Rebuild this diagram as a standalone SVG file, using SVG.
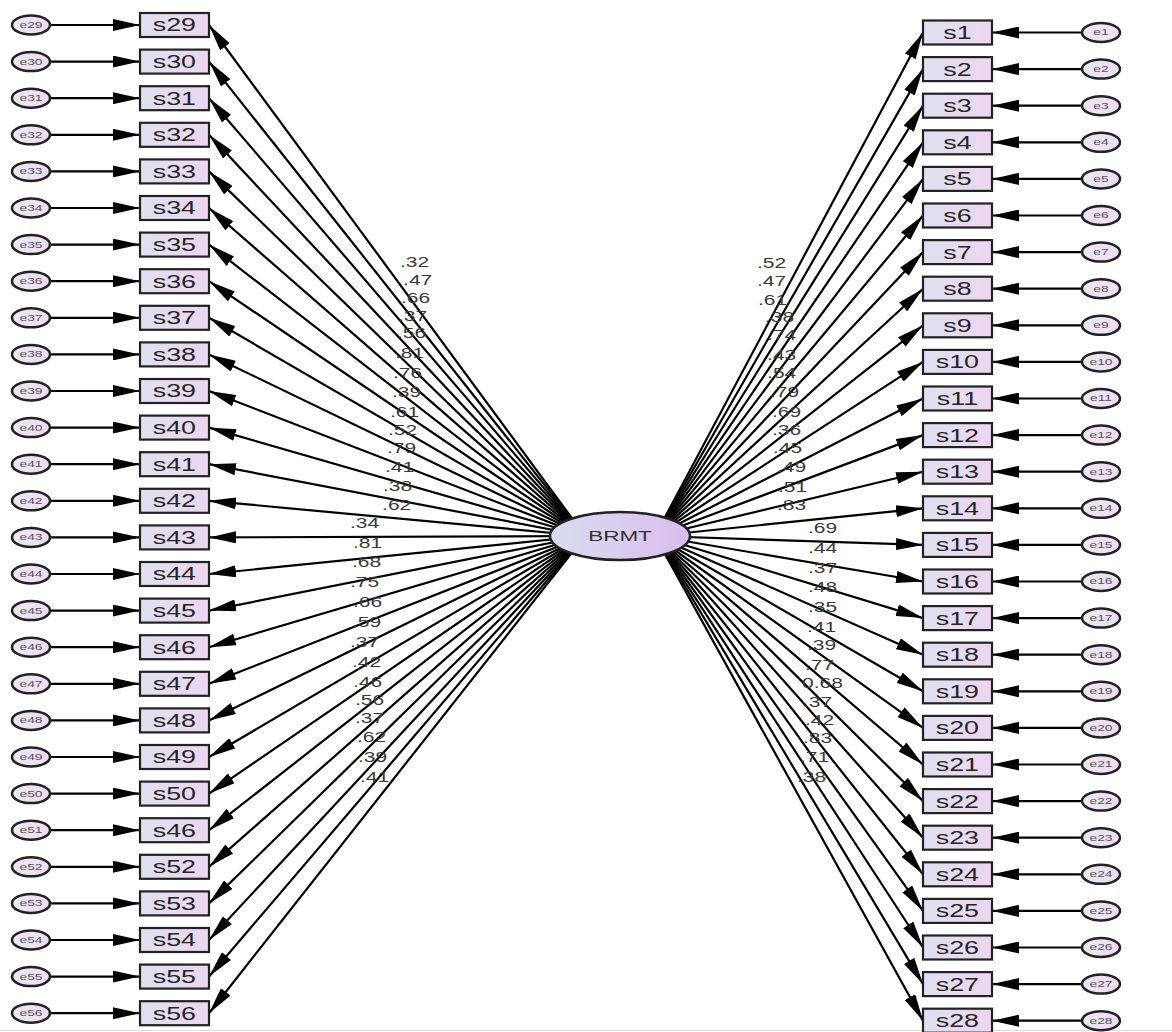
<svg xmlns="http://www.w3.org/2000/svg" width="1172" height="1032" viewBox="0 0 1172 1032">
<defs>
<linearGradient id="gBox" x1="0" y1="0" x2="1" y2="0"><stop offset="0" stop-color="#dfe0f0"/><stop offset="1" stop-color="#ecd6ef"/></linearGradient>
<linearGradient id="gE" x1="0" y1="0" x2="1" y2="0"><stop offset="0" stop-color="#ebe7f3"/><stop offset="1" stop-color="#efdcf2"/></linearGradient>
<linearGradient id="gB" x1="0" y1="0" x2="1" y2="0"><stop offset="0" stop-color="#d9ddf0"/><stop offset="1" stop-color="#dcbcec"/></linearGradient>
<marker id="ah" markerUnits="userSpaceOnUse" markerWidth="27" markerHeight="12" refX="27" refY="6" orient="auto"><path d="M0,0 L27,6 L0,12 z" fill="#000"/></marker>
</defs>
<style>
.c line{stroke:#000;stroke-width:2.2;marker-end:url(#ah)}
.box{fill:url(#gBox);stroke:#222;stroke-width:2.2}
.err{fill:url(#gE);stroke:#222;stroke-width:2.5;ry:9.5px}
.bt{font-family:"Liberation Sans",Arial,sans-serif;font-size:18.5px;fill:#262626;text-anchor:middle}
.et{font-family:"Liberation Sans",Arial,sans-serif;font-size:9.5px;fill:#555;text-anchor:middle}
.lt{font-family:"Liberation Sans",Arial,sans-serif;font-size:15px;fill:#3a3a3a}
.mt{font-family:"Liberation Sans",Arial,sans-serif;font-size:15.5px;fill:#333;text-anchor:middle}
</style>
<rect x="0" y="0" width="1172" height="1032" fill="#fff"/>
<line x1="0" y1="1030.5" x2="1172" y2="1030.5" stroke="#dddddd" stroke-width="1"/>
<g id="connectors" class="c">
<line x1="50" y1="25" x2="140" y2="25"/><line x1="585" y1="536" x2="209" y2="25"/>
<line x1="50" y1="61.6" x2="140" y2="61.6"/><line x1="585" y1="536" x2="209" y2="61.6"/>
<line x1="50" y1="98.2" x2="140" y2="98.2"/><line x1="585" y1="536" x2="209" y2="98.2"/>
<line x1="50" y1="134.8" x2="140" y2="134.8"/><line x1="585" y1="536" x2="209" y2="134.8"/>
<line x1="50" y1="171.4" x2="140" y2="171.4"/><line x1="585" y1="536" x2="209" y2="171.4"/>
<line x1="50" y1="208" x2="140" y2="208"/><line x1="585" y1="536" x2="209" y2="208"/>
<line x1="50" y1="244.6" x2="140" y2="244.6"/><line x1="585" y1="536" x2="209" y2="244.6"/>
<line x1="50" y1="281.2" x2="140" y2="281.2"/><line x1="585" y1="536" x2="209" y2="281.2"/>
<line x1="50" y1="317.8" x2="140" y2="317.8"/><line x1="585" y1="536" x2="209" y2="317.8"/>
<line x1="50" y1="354.4" x2="140" y2="354.4"/><line x1="585" y1="536" x2="209" y2="354.4"/>
<line x1="50" y1="391" x2="140" y2="391"/><line x1="585" y1="536" x2="209" y2="391"/>
<line x1="50" y1="427.6" x2="140" y2="427.6"/><line x1="585" y1="536" x2="209" y2="427.6"/>
<line x1="50" y1="464.2" x2="140" y2="464.2"/><line x1="585" y1="536" x2="209" y2="464.2"/>
<line x1="50" y1="500.8" x2="140" y2="500.8"/><line x1="585" y1="536" x2="209" y2="500.8"/>
<line x1="50" y1="537.4" x2="140" y2="537.4"/><line x1="585" y1="536" x2="209" y2="537.4"/>
<line x1="50" y1="574" x2="140" y2="574"/><line x1="585" y1="536" x2="209" y2="574"/>
<line x1="50" y1="610.6" x2="140" y2="610.6"/><line x1="585" y1="536" x2="209" y2="610.6"/>
<line x1="50" y1="647.2" x2="140" y2="647.2"/><line x1="585" y1="536" x2="209" y2="647.2"/>
<line x1="50" y1="683.8" x2="140" y2="683.8"/><line x1="585" y1="536" x2="209" y2="683.8"/>
<line x1="50" y1="720.4" x2="140" y2="720.4"/><line x1="585" y1="536" x2="209" y2="720.4"/>
<line x1="50" y1="757" x2="140" y2="757"/><line x1="585" y1="536" x2="209" y2="757"/>
<line x1="50" y1="793.6" x2="140" y2="793.6"/><line x1="585" y1="536" x2="209" y2="793.6"/>
<line x1="50" y1="830.2" x2="140" y2="830.2"/><line x1="585" y1="536" x2="209" y2="830.2"/>
<line x1="50" y1="866.8" x2="140" y2="866.8"/><line x1="585" y1="536" x2="209" y2="866.8"/>
<line x1="50" y1="903.4" x2="140" y2="903.4"/><line x1="585" y1="536" x2="209" y2="903.4"/>
<line x1="50" y1="940" x2="140" y2="940"/><line x1="585" y1="536" x2="209" y2="940"/>
<line x1="50" y1="976.6" x2="140" y2="976.6"/><line x1="585" y1="536" x2="209" y2="976.6"/>
<line x1="50" y1="1013.2" x2="140" y2="1013.2"/><line x1="585" y1="536" x2="209" y2="1013.2"/>
<line x1="1082" y1="32.5" x2="992" y2="32.5"/><line x1="655" y1="536" x2="923" y2="32.5"/>
<line x1="1082" y1="69.1" x2="992" y2="69.1"/><line x1="655" y1="536" x2="923" y2="69.1"/>
<line x1="1082" y1="105.7" x2="992" y2="105.7"/><line x1="655" y1="536" x2="923" y2="105.7"/>
<line x1="1082" y1="142.3" x2="992" y2="142.3"/><line x1="655" y1="536" x2="923" y2="142.3"/>
<line x1="1082" y1="178.9" x2="992" y2="178.9"/><line x1="655" y1="536" x2="923" y2="178.9"/>
<line x1="1082" y1="215.5" x2="992" y2="215.5"/><line x1="655" y1="536" x2="923" y2="215.5"/>
<line x1="1082" y1="252.1" x2="992" y2="252.1"/><line x1="655" y1="536" x2="923" y2="252.1"/>
<line x1="1082" y1="288.7" x2="992" y2="288.7"/><line x1="655" y1="536" x2="923" y2="288.7"/>
<line x1="1082" y1="325.3" x2="992" y2="325.3"/><line x1="655" y1="536" x2="923" y2="325.3"/>
<line x1="1082" y1="361.9" x2="992" y2="361.9"/><line x1="655" y1="536" x2="923" y2="361.9"/>
<line x1="1082" y1="398.5" x2="992" y2="398.5"/><line x1="655" y1="536" x2="923" y2="398.5"/>
<line x1="1082" y1="435.1" x2="992" y2="435.1"/><line x1="655" y1="536" x2="923" y2="435.1"/>
<line x1="1082" y1="471.7" x2="992" y2="471.7"/><line x1="655" y1="536" x2="923" y2="471.7"/>
<line x1="1082" y1="508.3" x2="992" y2="508.3"/><line x1="655" y1="536" x2="923" y2="508.3"/>
<line x1="1082" y1="544.9" x2="992" y2="544.9"/><line x1="655" y1="536" x2="923" y2="544.9"/>
<line x1="1082" y1="581.5" x2="992" y2="581.5"/><line x1="655" y1="536" x2="923" y2="581.5"/>
<line x1="1082" y1="618.1" x2="992" y2="618.1"/><line x1="655" y1="536" x2="923" y2="618.1"/>
<line x1="1082" y1="654.7" x2="992" y2="654.7"/><line x1="655" y1="536" x2="923" y2="654.7"/>
<line x1="1082" y1="691.3" x2="992" y2="691.3"/><line x1="655" y1="536" x2="923" y2="691.3"/>
<line x1="1082" y1="727.9" x2="992" y2="727.9"/><line x1="655" y1="536" x2="923" y2="727.9"/>
<line x1="1082" y1="764.5" x2="992" y2="764.5"/><line x1="655" y1="536" x2="923" y2="764.5"/>
<line x1="1082" y1="801.1" x2="992" y2="801.1"/><line x1="655" y1="536" x2="923" y2="801.1"/>
<line x1="1082" y1="837.7" x2="992" y2="837.7"/><line x1="655" y1="536" x2="923" y2="837.7"/>
<line x1="1082" y1="874.3" x2="992" y2="874.3"/><line x1="655" y1="536" x2="923" y2="874.3"/>
<line x1="1082" y1="910.9" x2="992" y2="910.9"/><line x1="655" y1="536" x2="923" y2="910.9"/>
<line x1="1082" y1="947.5" x2="992" y2="947.5"/><line x1="655" y1="536" x2="923" y2="947.5"/>
<line x1="1082" y1="984.1" x2="992" y2="984.1"/><line x1="655" y1="536" x2="923" y2="984.1"/>
<line x1="1082" y1="1020.7" x2="992" y2="1020.7"/><line x1="655" y1="536" x2="923" y2="1020.7"/>
</g>
<g id="loadings" transform="scale(1.4 1)">
<text class="lt" x="285.7" y="267">.32</text>
<text class="lt" x="287.9" y="285">.47</text>
<text class="lt" x="286.4" y="303">.66</text>
<text class="lt" x="284.3" y="321">.37</text>
<text class="lt" x="283.6" y="338">.56</text>
<text class="lt" x="282.1" y="358">.81</text>
<text class="lt" x="280.7" y="378">.76</text>
<text class="lt" x="280" y="397">.39</text>
<text class="lt" x="278.6" y="417">.61</text>
<text class="lt" x="277.1" y="435">.52</text>
<text class="lt" x="276.4" y="453">.79</text>
<text class="lt" x="275" y="472">.41</text>
<text class="lt" x="273.6" y="491">.38</text>
<text class="lt" x="272.9" y="510">.62</text>
<text class="lt" x="250" y="528">.34</text>
<text class="lt" x="252.1" y="548">.81</text>
<text class="lt" x="251.4" y="567">.68</text>
<text class="lt" x="250" y="587">.75</text>
<text class="lt" x="252.1" y="607">.66</text>
<text class="lt" x="251.4" y="627">.59</text>
<text class="lt" x="250" y="647">.37</text>
<text class="lt" x="251.4" y="667">.42</text>
<text class="lt" x="252.1" y="687">.46</text>
<text class="lt" x="253.6" y="705">.56</text>
<text class="lt" x="253.6" y="723">.37</text>
<text class="lt" x="255" y="742">.62</text>
<text class="lt" x="255.7" y="762">.39</text>
<text class="lt" x="257.1" y="782">.41</text>
<text class="lt" x="540.7" y="268">.52</text>
<text class="lt" x="540.7" y="286">.47</text>
<text class="lt" x="541.4" y="305">.61</text>
<text class="lt" x="546.4" y="322">.38</text>
<text class="lt" x="547.9" y="340">.74</text>
<text class="lt" x="547.9" y="360">.43</text>
<text class="lt" x="547.9" y="378">.54</text>
<text class="lt" x="550" y="397">.79</text>
<text class="lt" x="551.4" y="417">.69</text>
<text class="lt" x="551.4" y="435">.36</text>
<text class="lt" x="552.1" y="453">.45</text>
<text class="lt" x="555" y="472">.49</text>
<text class="lt" x="555.7" y="492">.51</text>
<text class="lt" x="555" y="510">.83</text>
<text class="lt" x="577.1" y="533">.69</text>
<text class="lt" x="577.1" y="553">.44</text>
<text class="lt" x="577.1" y="573">.37</text>
<text class="lt" x="577.1" y="592">.48</text>
<text class="lt" x="577.1" y="612">.35</text>
<text class="lt" x="576.4" y="632">.41</text>
<text class="lt" x="576.4" y="650">.39</text>
<text class="lt" x="575" y="670">.77</text>
<text class="lt" x="572.9" y="688">0.68</text>
<text class="lt" x="573.6" y="707">.37</text>
<text class="lt" x="575" y="725">.42</text>
<text class="lt" x="573.6" y="743">.83</text>
<text class="lt" x="571.4" y="762">.71</text>
<text class="lt" x="569.3" y="782">.38</text>
</g>
<g id="BRMT"><ellipse cx="620" cy="536" rx="70" ry="24" fill="url(#gB)" stroke="#222" stroke-width="2.5"/><text class="mt" x="427.6" y="541.5" transform="scale(1.45 1)">BRMT</text></g>
<g id="s29"><rect class="box" x="140" y="13" width="69" height="24"/><text class="bt" x="120.3" y="31.5" transform="scale(1.45 1)">s29</text></g>
<g id="e29"><ellipse class="err" cx="31" cy="25" rx="19" ry="9"/><text class="et" x="21.4" y="28" transform="scale(1.45 1)">e29</text></g>
<g id="s30"><rect class="box" x="140" y="49.6" width="69" height="24"/><text class="bt" x="120.3" y="68.1" transform="scale(1.45 1)">s30</text></g>
<g id="e30"><ellipse class="err" cx="31" cy="61.6" rx="19" ry="9"/><text class="et" x="21.4" y="64.6" transform="scale(1.45 1)">e30</text></g>
<g id="s31"><rect class="box" x="140" y="86.2" width="69" height="24"/><text class="bt" x="120.3" y="104.7" transform="scale(1.45 1)">s31</text></g>
<g id="e31"><ellipse class="err" cx="31" cy="98.2" rx="19" ry="9"/><text class="et" x="21.4" y="101.2" transform="scale(1.45 1)">e31</text></g>
<g id="s32"><rect class="box" x="140" y="122.8" width="69" height="24"/><text class="bt" x="120.3" y="141.3" transform="scale(1.45 1)">s32</text></g>
<g id="e32"><ellipse class="err" cx="31" cy="134.8" rx="19" ry="9"/><text class="et" x="21.4" y="137.8" transform="scale(1.45 1)">e32</text></g>
<g id="s33"><rect class="box" x="140" y="159.4" width="69" height="24"/><text class="bt" x="120.3" y="177.9" transform="scale(1.45 1)">s33</text></g>
<g id="e33"><ellipse class="err" cx="31" cy="171.4" rx="19" ry="9"/><text class="et" x="21.4" y="174.4" transform="scale(1.45 1)">e33</text></g>
<g id="s34"><rect class="box" x="140" y="196" width="69" height="24"/><text class="bt" x="120.3" y="214.5" transform="scale(1.45 1)">s34</text></g>
<g id="e34"><ellipse class="err" cx="31" cy="208" rx="19" ry="9"/><text class="et" x="21.4" y="211" transform="scale(1.45 1)">e34</text></g>
<g id="s35"><rect class="box" x="140" y="232.6" width="69" height="24"/><text class="bt" x="120.3" y="251.1" transform="scale(1.45 1)">s35</text></g>
<g id="e35"><ellipse class="err" cx="31" cy="244.6" rx="19" ry="9"/><text class="et" x="21.4" y="247.6" transform="scale(1.45 1)">e35</text></g>
<g id="s36"><rect class="box" x="140" y="269.2" width="69" height="24"/><text class="bt" x="120.3" y="287.7" transform="scale(1.45 1)">s36</text></g>
<g id="e36"><ellipse class="err" cx="31" cy="281.2" rx="19" ry="9"/><text class="et" x="21.4" y="284.2" transform="scale(1.45 1)">e36</text></g>
<g id="s37"><rect class="box" x="140" y="305.8" width="69" height="24"/><text class="bt" x="120.3" y="324.3" transform="scale(1.45 1)">s37</text></g>
<g id="e37"><ellipse class="err" cx="31" cy="317.8" rx="19" ry="9"/><text class="et" x="21.4" y="320.8" transform="scale(1.45 1)">e37</text></g>
<g id="s38"><rect class="box" x="140" y="342.4" width="69" height="24"/><text class="bt" x="120.3" y="360.9" transform="scale(1.45 1)">s38</text></g>
<g id="e38"><ellipse class="err" cx="31" cy="354.4" rx="19" ry="9"/><text class="et" x="21.4" y="357.4" transform="scale(1.45 1)">e38</text></g>
<g id="s39"><rect class="box" x="140" y="379" width="69" height="24"/><text class="bt" x="120.3" y="397.5" transform="scale(1.45 1)">s39</text></g>
<g id="e39"><ellipse class="err" cx="31" cy="391" rx="19" ry="9"/><text class="et" x="21.4" y="394" transform="scale(1.45 1)">e39</text></g>
<g id="s40"><rect class="box" x="140" y="415.6" width="69" height="24"/><text class="bt" x="120.3" y="434.1" transform="scale(1.45 1)">s40</text></g>
<g id="e40"><ellipse class="err" cx="31" cy="427.6" rx="19" ry="9"/><text class="et" x="21.4" y="430.6" transform="scale(1.45 1)">e40</text></g>
<g id="s41"><rect class="box" x="140" y="452.2" width="69" height="24"/><text class="bt" x="120.3" y="470.7" transform="scale(1.45 1)">s41</text></g>
<g id="e41"><ellipse class="err" cx="31" cy="464.2" rx="19" ry="9"/><text class="et" x="21.4" y="467.2" transform="scale(1.45 1)">e41</text></g>
<g id="s42"><rect class="box" x="140" y="488.8" width="69" height="24"/><text class="bt" x="120.3" y="507.3" transform="scale(1.45 1)">s42</text></g>
<g id="e42"><ellipse class="err" cx="31" cy="500.8" rx="19" ry="9"/><text class="et" x="21.4" y="503.8" transform="scale(1.45 1)">e42</text></g>
<g id="s43"><rect class="box" x="140" y="525.4" width="69" height="24"/><text class="bt" x="120.3" y="543.9" transform="scale(1.45 1)">s43</text></g>
<g id="e43"><ellipse class="err" cx="31" cy="537.4" rx="19" ry="9"/><text class="et" x="21.4" y="540.4" transform="scale(1.45 1)">e43</text></g>
<g id="s44"><rect class="box" x="140" y="562" width="69" height="24"/><text class="bt" x="120.3" y="580.5" transform="scale(1.45 1)">s44</text></g>
<g id="e44"><ellipse class="err" cx="31" cy="574" rx="19" ry="9"/><text class="et" x="21.4" y="577" transform="scale(1.45 1)">e44</text></g>
<g id="s45"><rect class="box" x="140" y="598.6" width="69" height="24"/><text class="bt" x="120.3" y="617.1" transform="scale(1.45 1)">s45</text></g>
<g id="e45"><ellipse class="err" cx="31" cy="610.6" rx="19" ry="9"/><text class="et" x="21.4" y="613.6" transform="scale(1.45 1)">e45</text></g>
<g id="s46"><rect class="box" x="140" y="635.2" width="69" height="24"/><text class="bt" x="120.3" y="653.7" transform="scale(1.45 1)">s46</text></g>
<g id="e46"><ellipse class="err" cx="31" cy="647.2" rx="19" ry="9"/><text class="et" x="21.4" y="650.2" transform="scale(1.45 1)">e46</text></g>
<g id="s47"><rect class="box" x="140" y="671.8" width="69" height="24"/><text class="bt" x="120.3" y="690.3" transform="scale(1.45 1)">s47</text></g>
<g id="e47"><ellipse class="err" cx="31" cy="683.8" rx="19" ry="9"/><text class="et" x="21.4" y="686.8" transform="scale(1.45 1)">e47</text></g>
<g id="s48"><rect class="box" x="140" y="708.4" width="69" height="24"/><text class="bt" x="120.3" y="726.9" transform="scale(1.45 1)">s48</text></g>
<g id="e48"><ellipse class="err" cx="31" cy="720.4" rx="19" ry="9"/><text class="et" x="21.4" y="723.4" transform="scale(1.45 1)">e48</text></g>
<g id="s49"><rect class="box" x="140" y="745" width="69" height="24"/><text class="bt" x="120.3" y="763.5" transform="scale(1.45 1)">s49</text></g>
<g id="e49"><ellipse class="err" cx="31" cy="757" rx="19" ry="9"/><text class="et" x="21.4" y="760" transform="scale(1.45 1)">e49</text></g>
<g id="s50"><rect class="box" x="140" y="781.6" width="69" height="24"/><text class="bt" x="120.3" y="800.1" transform="scale(1.45 1)">s50</text></g>
<g id="e50"><ellipse class="err" cx="31" cy="793.6" rx="19" ry="9"/><text class="et" x="21.4" y="796.6" transform="scale(1.45 1)">e50</text></g>
<g id="s51"><rect class="box" x="140" y="818.2" width="69" height="24"/><text class="bt" x="120.3" y="836.7" transform="scale(1.45 1)">s46</text></g>
<g id="e51"><ellipse class="err" cx="31" cy="830.2" rx="19" ry="9"/><text class="et" x="21.4" y="833.2" transform="scale(1.45 1)">e51</text></g>
<g id="s52"><rect class="box" x="140" y="854.8" width="69" height="24"/><text class="bt" x="120.3" y="873.3" transform="scale(1.45 1)">s52</text></g>
<g id="e52"><ellipse class="err" cx="31" cy="866.8" rx="19" ry="9"/><text class="et" x="21.4" y="869.8" transform="scale(1.45 1)">e52</text></g>
<g id="s53"><rect class="box" x="140" y="891.4" width="69" height="24"/><text class="bt" x="120.3" y="909.9" transform="scale(1.45 1)">s53</text></g>
<g id="e53"><ellipse class="err" cx="31" cy="903.4" rx="19" ry="9"/><text class="et" x="21.4" y="906.4" transform="scale(1.45 1)">e53</text></g>
<g id="s54"><rect class="box" x="140" y="928" width="69" height="24"/><text class="bt" x="120.3" y="946.5" transform="scale(1.45 1)">s54</text></g>
<g id="e54"><ellipse class="err" cx="31" cy="940" rx="19" ry="9"/><text class="et" x="21.4" y="943" transform="scale(1.45 1)">e54</text></g>
<g id="s55"><rect class="box" x="140" y="964.6" width="69" height="24"/><text class="bt" x="120.3" y="983.1" transform="scale(1.45 1)">s55</text></g>
<g id="e55"><ellipse class="err" cx="31" cy="976.6" rx="19" ry="9"/><text class="et" x="21.4" y="979.6" transform="scale(1.45 1)">e55</text></g>
<g id="s56"><rect class="box" x="140" y="1001.2" width="69" height="24"/><text class="bt" x="120.3" y="1019.7" transform="scale(1.45 1)">s56</text></g>
<g id="e56"><ellipse class="err" cx="31" cy="1013.2" rx="19" ry="9"/><text class="et" x="21.4" y="1016.2" transform="scale(1.45 1)">e56</text></g>
<g id="s1"><rect class="box" x="923" y="20.5" width="69" height="24"/><text class="bt" x="660.3" y="39" transform="scale(1.45 1)">s1</text></g>
<g id="e1"><ellipse class="err" cx="1101" cy="32.5" rx="19" ry="9"/><text class="et" x="759.3" y="35.5" transform="scale(1.45 1)">e1</text></g>
<g id="s2"><rect class="box" x="923" y="57.1" width="69" height="24"/><text class="bt" x="660.3" y="75.6" transform="scale(1.45 1)">s2</text></g>
<g id="e2"><ellipse class="err" cx="1101" cy="69.1" rx="19" ry="9"/><text class="et" x="759.3" y="72.1" transform="scale(1.45 1)">e2</text></g>
<g id="s3"><rect class="box" x="923" y="93.7" width="69" height="24"/><text class="bt" x="660.3" y="112.2" transform="scale(1.45 1)">s3</text></g>
<g id="e3"><ellipse class="err" cx="1101" cy="105.7" rx="19" ry="9"/><text class="et" x="759.3" y="108.7" transform="scale(1.45 1)">e3</text></g>
<g id="s4"><rect class="box" x="923" y="130.3" width="69" height="24"/><text class="bt" x="660.3" y="148.8" transform="scale(1.45 1)">s4</text></g>
<g id="e4"><ellipse class="err" cx="1101" cy="142.3" rx="19" ry="9"/><text class="et" x="759.3" y="145.3" transform="scale(1.45 1)">e4</text></g>
<g id="s5"><rect class="box" x="923" y="166.9" width="69" height="24"/><text class="bt" x="660.3" y="185.4" transform="scale(1.45 1)">s5</text></g>
<g id="e5"><ellipse class="err" cx="1101" cy="178.9" rx="19" ry="9"/><text class="et" x="759.3" y="181.9" transform="scale(1.45 1)">e5</text></g>
<g id="s6"><rect class="box" x="923" y="203.5" width="69" height="24"/><text class="bt" x="660.3" y="222" transform="scale(1.45 1)">s6</text></g>
<g id="e6"><ellipse class="err" cx="1101" cy="215.5" rx="19" ry="9"/><text class="et" x="759.3" y="218.5" transform="scale(1.45 1)">e6</text></g>
<g id="s7"><rect class="box" x="923" y="240.1" width="69" height="24"/><text class="bt" x="660.3" y="258.6" transform="scale(1.45 1)">s7</text></g>
<g id="e7"><ellipse class="err" cx="1101" cy="252.1" rx="19" ry="9"/><text class="et" x="759.3" y="255.1" transform="scale(1.45 1)">e7</text></g>
<g id="s8"><rect class="box" x="923" y="276.7" width="69" height="24"/><text class="bt" x="660.3" y="295.2" transform="scale(1.45 1)">s8</text></g>
<g id="e8"><ellipse class="err" cx="1101" cy="288.7" rx="19" ry="9"/><text class="et" x="759.3" y="291.7" transform="scale(1.45 1)">e8</text></g>
<g id="s9"><rect class="box" x="923" y="313.3" width="69" height="24"/><text class="bt" x="660.3" y="331.8" transform="scale(1.45 1)">s9</text></g>
<g id="e9"><ellipse class="err" cx="1101" cy="325.3" rx="19" ry="9"/><text class="et" x="759.3" y="328.3" transform="scale(1.45 1)">e9</text></g>
<g id="s10"><rect class="box" x="923" y="349.9" width="69" height="24"/><text class="bt" x="660.3" y="368.4" transform="scale(1.45 1)">s10</text></g>
<g id="e10"><ellipse class="err" cx="1101" cy="361.9" rx="19" ry="9"/><text class="et" x="759.3" y="364.9" transform="scale(1.45 1)">e10</text></g>
<g id="s11"><rect class="box" x="923" y="386.5" width="69" height="24"/><text class="bt" x="660.3" y="405" transform="scale(1.45 1)">s11</text></g>
<g id="e11"><ellipse class="err" cx="1101" cy="398.5" rx="19" ry="9"/><text class="et" x="759.3" y="401.5" transform="scale(1.45 1)">e11</text></g>
<g id="s12"><rect class="box" x="923" y="423.1" width="69" height="24"/><text class="bt" x="660.3" y="441.6" transform="scale(1.45 1)">s12</text></g>
<g id="e12"><ellipse class="err" cx="1101" cy="435.1" rx="19" ry="9"/><text class="et" x="759.3" y="438.1" transform="scale(1.45 1)">e12</text></g>
<g id="s13"><rect class="box" x="923" y="459.7" width="69" height="24"/><text class="bt" x="660.3" y="478.2" transform="scale(1.45 1)">s13</text></g>
<g id="e13"><ellipse class="err" cx="1101" cy="471.7" rx="19" ry="9"/><text class="et" x="759.3" y="474.7" transform="scale(1.45 1)">e13</text></g>
<g id="s14"><rect class="box" x="923" y="496.3" width="69" height="24"/><text class="bt" x="660.3" y="514.8" transform="scale(1.45 1)">s14</text></g>
<g id="e14"><ellipse class="err" cx="1101" cy="508.3" rx="19" ry="9"/><text class="et" x="759.3" y="511.3" transform="scale(1.45 1)">e14</text></g>
<g id="s15"><rect class="box" x="923" y="532.9" width="69" height="24"/><text class="bt" x="660.3" y="551.4" transform="scale(1.45 1)">s15</text></g>
<g id="e15"><ellipse class="err" cx="1101" cy="544.9" rx="19" ry="9"/><text class="et" x="759.3" y="547.9" transform="scale(1.45 1)">e15</text></g>
<g id="s16"><rect class="box" x="923" y="569.5" width="69" height="24"/><text class="bt" x="660.3" y="588" transform="scale(1.45 1)">s16</text></g>
<g id="e16"><ellipse class="err" cx="1101" cy="581.5" rx="19" ry="9"/><text class="et" x="759.3" y="584.5" transform="scale(1.45 1)">e16</text></g>
<g id="s17"><rect class="box" x="923" y="606.1" width="69" height="24"/><text class="bt" x="660.3" y="624.6" transform="scale(1.45 1)">s17</text></g>
<g id="e17"><ellipse class="err" cx="1101" cy="618.1" rx="19" ry="9"/><text class="et" x="759.3" y="621.1" transform="scale(1.45 1)">e17</text></g>
<g id="s18"><rect class="box" x="923" y="642.7" width="69" height="24"/><text class="bt" x="660.3" y="661.2" transform="scale(1.45 1)">s18</text></g>
<g id="e18"><ellipse class="err" cx="1101" cy="654.7" rx="19" ry="9"/><text class="et" x="759.3" y="657.7" transform="scale(1.45 1)">e18</text></g>
<g id="s19"><rect class="box" x="923" y="679.3" width="69" height="24"/><text class="bt" x="660.3" y="697.8" transform="scale(1.45 1)">s19</text></g>
<g id="e19"><ellipse class="err" cx="1101" cy="691.3" rx="19" ry="9"/><text class="et" x="759.3" y="694.3" transform="scale(1.45 1)">e19</text></g>
<g id="s20"><rect class="box" x="923" y="715.9" width="69" height="24"/><text class="bt" x="660.3" y="734.4" transform="scale(1.45 1)">s20</text></g>
<g id="e20"><ellipse class="err" cx="1101" cy="727.9" rx="19" ry="9"/><text class="et" x="759.3" y="730.9" transform="scale(1.45 1)">e20</text></g>
<g id="s21"><rect class="box" x="923" y="752.5" width="69" height="24"/><text class="bt" x="660.3" y="771" transform="scale(1.45 1)">s21</text></g>
<g id="e21"><ellipse class="err" cx="1101" cy="764.5" rx="19" ry="9"/><text class="et" x="759.3" y="767.5" transform="scale(1.45 1)">e21</text></g>
<g id="s22"><rect class="box" x="923" y="789.1" width="69" height="24"/><text class="bt" x="660.3" y="807.6" transform="scale(1.45 1)">s22</text></g>
<g id="e22"><ellipse class="err" cx="1101" cy="801.1" rx="19" ry="9"/><text class="et" x="759.3" y="804.1" transform="scale(1.45 1)">e22</text></g>
<g id="s23"><rect class="box" x="923" y="825.7" width="69" height="24"/><text class="bt" x="660.3" y="844.2" transform="scale(1.45 1)">s23</text></g>
<g id="e23"><ellipse class="err" cx="1101" cy="837.7" rx="19" ry="9"/><text class="et" x="759.3" y="840.7" transform="scale(1.45 1)">e23</text></g>
<g id="s24"><rect class="box" x="923" y="862.3" width="69" height="24"/><text class="bt" x="660.3" y="880.8" transform="scale(1.45 1)">s24</text></g>
<g id="e24"><ellipse class="err" cx="1101" cy="874.3" rx="19" ry="9"/><text class="et" x="759.3" y="877.3" transform="scale(1.45 1)">e24</text></g>
<g id="s25"><rect class="box" x="923" y="898.9" width="69" height="24"/><text class="bt" x="660.3" y="917.4" transform="scale(1.45 1)">s25</text></g>
<g id="e25"><ellipse class="err" cx="1101" cy="910.9" rx="19" ry="9"/><text class="et" x="759.3" y="913.9" transform="scale(1.45 1)">e25</text></g>
<g id="s26"><rect class="box" x="923" y="935.5" width="69" height="24"/><text class="bt" x="660.3" y="954" transform="scale(1.45 1)">s26</text></g>
<g id="e26"><ellipse class="err" cx="1101" cy="947.5" rx="19" ry="9"/><text class="et" x="759.3" y="950.5" transform="scale(1.45 1)">e26</text></g>
<g id="s27"><rect class="box" x="923" y="972.1" width="69" height="24"/><text class="bt" x="660.3" y="990.6" transform="scale(1.45 1)">s27</text></g>
<g id="e27"><ellipse class="err" cx="1101" cy="984.1" rx="19" ry="9"/><text class="et" x="759.3" y="987.1" transform="scale(1.45 1)">e27</text></g>
<g id="s28"><rect class="box" x="923" y="1008.7" width="69" height="24"/><text class="bt" x="660.3" y="1027.2" transform="scale(1.45 1)">s28</text></g>
<g id="e28"><ellipse class="err" cx="1101" cy="1020.7" rx="19" ry="9"/><text class="et" x="759.3" y="1023.7" transform="scale(1.45 1)">e28</text></g>
</svg>
